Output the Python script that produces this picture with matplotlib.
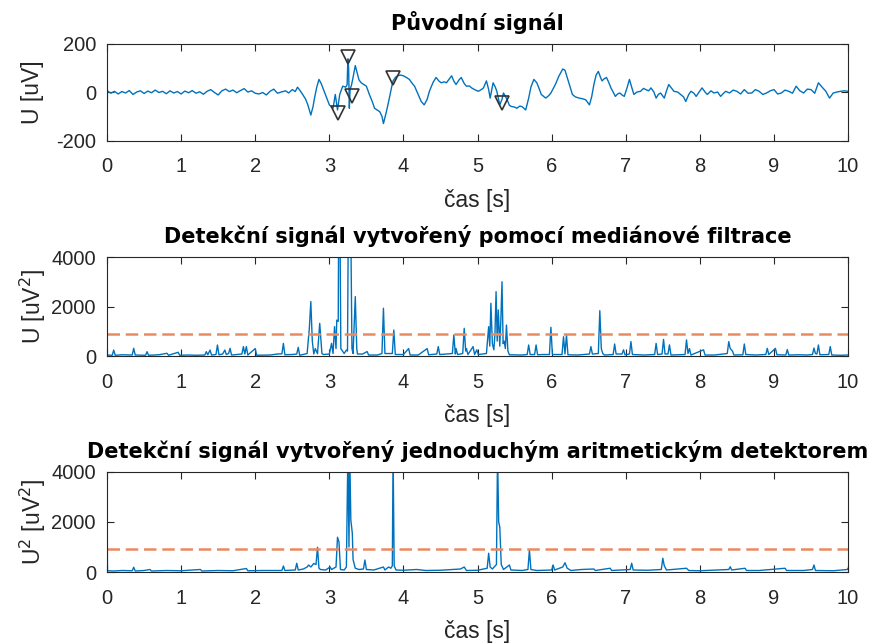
import matplotlib
matplotlib.use('Agg')
import matplotlib.pyplot as plt

plt.rcParams['font.family'] = ['Liberation Sans', 'DejaVu Sans']
plt.rcParams['axes.unicode_minus'] = False

# původní signál
t1 = [0, 0.005, 0.05, 0.10, 0.15, 0.20, 0.25, 0.30, 0.35, 0.40, 0.45, 0.50, 0.55, 0.60, 0.65, 0.70,
      0.75, 0.80, 0.85, 0.90, 0.95, 1.00, 1.05, 1.10, 1.15, 1.20, 1.25, 1.30, 1.35, 1.40, 1.45, 1.50,
      1.55, 1.60, 1.65, 1.70, 1.75, 1.80, 1.85, 1.90, 1.95, 2.00, 2.05, 2.10, 2.15, 2.20, 2.25, 2.30,
      2.35, 2.41, 2.45, 2.50, 2.54, 2.57, 2.60, 2.64, 2.68, 2.71, 2.75, 2.78, 2.80, 2.83, 2.86, 2.89,
      2.93, 2.97, 3.00, 3.05, 3.08, 3.11, 3.14, 3.18, 3.22, 3.24, 3.25, 3.26, 3.27, 3.28, 3.30, 3.32,
      3.35, 3.38, 3.40, 3.43, 3.47, 3.50, 3.54, 3.58, 3.61, 3.65, 3.68, 3.71, 3.73, 3.77, 3.81, 3.84,
      3.86, 3.89, 3.92, 3.96, 4.00, 4.04, 4.08, 4.12, 4.15, 4.19, 4.24, 4.28, 4.32, 4.35, 4.40, 4.44,
      4.48, 4.51, 4.55, 4.58, 4.62, 4.65, 4.68, 4.71, 4.75, 4.78, 4.82, 4.85, 4.89, 4.92, 4.96, 5.01,
      5.05, 5.08, 5.12, 5.15, 5.17, 5.21, 5.24, 5.26, 5.30, 5.33, 5.35, 5.38, 5.40, 5.43, 5.46, 5.50,
      5.53, 5.57, 5.60, 5.65, 5.69, 5.72, 5.76, 5.80, 5.83, 5.86, 5.92, 5.96, 5.99, 6.05, 6.10, 6.15,
      6.18, 6.21, 6.25, 6.28, 6.32, 6.37, 6.42, 6.46, 6.51, 6.54, 6.57, 6.60, 6.63, 6.66, 6.68, 6.71,
      6.74, 6.77, 6.80, 6.83, 6.86, 6.89, 6.92, 6.95, 6.98, 7.02, 7.05, 7.08, 7.11, 7.15, 7.20, 7.24,
      7.27, 7.31, 7.34, 7.38, 7.41, 7.44, 7.47, 7.52, 7.55, 7.58, 7.62, 7.65, 7.70, 7.74, 7.78, 7.81,
      7.85, 7.88, 7.92, 7.95, 7.99, 8.03, 8.07, 8.10, 8.15, 8.19, 8.24, 8.28, 8.32, 8.35, 8.40, 8.45,
      8.50, 8.55, 8.60, 8.65, 8.70, 8.75, 8.80, 8.85, 8.90, 8.95, 9.00, 9.05, 9.10, 9.15, 9.20, 9.25,
      9.30, 9.35, 9.40, 9.45, 9.50, 9.55, 9.60, 9.65, 9.70, 9.75, 9.80, 9.85, 9.90, 9.95, 10.0]
u1 = [-200, 5, -5, 3, -8, 2, -4, 6, -10, 0, 5, -6, 4, -3, 8, -2,
      3, -7, 5, -4, 2, -8, 4, -3, 6, -5, 1, -9, 3, 10, -2, -12,
      5, 12, 2, 8, -3, 6, 14, 0, 5, -5, -8, -2, -12, 3, 12, -5,
      0, 5, -4, 10, 2, 20, 8, -10, -30, -53, -95, -60, -25, 20, 52, 35,
      3, -30, -53, -67, -10, -74, -10, 24, 20, 30, 137, 100, -67, 10, 30, 60,
      109, 74, 50, 38, 30, 24, -10, -40, -67, -75, -81, -100, -130, -81, -25, 20,
      46, 60, 67, 70, 67, 60, 52, 35, 24, -4, -39, -53, -30, 3, 40, 60,
      45, 38, 42, 38, 55, 67, 45, 31, 50, 60, 35, 24, 25, 17, 10, 3,
      10, 17, 46, 10, -25, 38, 20, 3, -53, -30, -4, -20, -32, -55, -60, -62,
      -67, -58, -60, -74, -25, 20, 52, 38, 15, -10, -25, -15, -4, 31, 67, 95,
      90, 60, 20, -10, -20, -25, -28, -32, -53, -20, 31, 70, 85, 60, 46, 55,
      60, 40, 17, 0, -18, -8, -4, -12, -18, 20, 52, 20, -10, 0, 3, 15,
      10, 5, 17, 0, -25, -10, -4, -25, 5, 31, 15, 3, 0, -10, -20, -39,
      -10, 3, -5, -18, 0, 17, 0, -10, 5, -4, 0, -18, -5, 3, -4, 8,
      3, -8, 10, -5, -4, 10, 3, -10, -4, 5, 10, -8, -4, 8, 3, -5,
      24, 5, -4, 12, 10, -5, 38, 20, 3, -25, -4, 0, 3, 5, 3]

# detekované body
t_det = [3.12, 3.25, 3.31, 3.86, 5.33]
u_det = [-86, 145, -15, 57, -44]

# detekční signál - mediánová filtrace
t2 = [0, 0.07, 0.09, 0.11, 0.2, 0.34, 0.36, 0.38, 0.52, 0.54, 0.56, 0.7, 0.81, 0.83, 0.96, 0.98,
      1.1, 1.2, 1.32, 1.34, 1.36, 1.39, 1.41, 1.47, 1.49, 1.51, 1.56, 1.59, 1.61, 1.64, 1.66, 1.68,
      1.82, 1.84, 1.86, 1.88, 1.90, 2.0, 2.02, 2.2, 2.3, 2.36, 2.38, 2.40, 2.5, 2.56, 2.58, 2.60,
      2.70, 2.73, 2.75, 2.77, 2.79, 2.81, 2.84, 2.87, 2.90, 2.92, 3.0, 3.03, 3.05, 3.07, 3.09, 3.10,
      3.12, 3.125, 3.145, 3.155, 3.2, 3.23, 3.245, 3.255, 3.275, 3.29, 3.305, 3.32, 3.35, 3.37, 3.38, 3.45,
      3.51, 3.53, 3.65, 3.71, 3.73, 3.75, 3.85, 3.87, 3.89, 4.0, 4.07, 4.09, 4.2, 4.32, 4.34, 4.45,
      4.47, 4.49, 4.66, 4.68, 4.70, 4.71, 4.73, 4.80, 4.82, 4.84, 4.85, 4.87, 4.94, 4.96, 4.99, 5.01,
      5.12, 5.15, 5.165, 5.18, 5.2, 5.22, 5.235, 5.25, 5.265, 5.28, 5.30, 5.315, 5.33, 5.345, 5.36, 5.375,
      5.39, 5.41, 5.43, 5.6, 5.67, 5.69, 5.71, 5.77, 5.79, 5.81, 5.89, 5.97, 5.99, 6.01, 6.14, 6.16,
      6.18, 6.20, 6.22, 6.35, 6.51, 6.53, 6.55, 6.63, 6.65, 6.67, 6.69, 6.71, 6.83, 6.85, 6.87, 6.95,
      6.97, 6.99, 7.05, 7.07, 7.09, 7.25, 7.39, 7.41, 7.43, 7.49, 7.51, 7.53, 7.57, 7.59, 7.61, 7.80,
      7.82, 7.84, 7.86, 7.88, 8.05, 8.07, 8.2, 8.37, 8.39, 8.41, 8.44, 8.46, 8.58, 8.60, 8.62, 8.75,
      8.89, 8.91, 8.93, 9.02, 9.04, 9.16, 9.18, 9.20, 9.35, 9.45, 9.52, 9.54, 9.56, 9.58, 9.60, 9.62,
      9.74, 9.76, 9.78, 9.9, 10.0]
d2 = [40, 30, 240, 30, 50, 40, 310, 40, 30, 175, 30, 50, 110, 30, 150, 30,
      40, 30, 40, 175, 50, 240, 40, 60, 445, 50, 80, 240, 60, 100, 310, 40,
      80, 380, 80, 380, 40, 300, 30, 40, 80, 90, 510, 50, 60, 80, 350, 30,
      100, 1120, 2200, 600, 80, 300, 90, 1320, 100, 60, 80, 510, 100, 1185, 300, 1450,
      1400, 4800, 4800, 300, 100, 240, 200, 5000, 4800, 5000, 300, 100, 2400, 300, 80, 80,
      180, 40, 40, 100, 1930, 100, 100, 1050, 60, 60, 300, 40, 40, 300, 50, 80,
      380, 60, 100, 850, 80, 300, 60, 100, 1120, 200, 300, 60, 380, 60, 250, 60,
      100, 1185, 400, 2130, 500, 250, 900, 2600, 600, 1860, 400, 1500, 3000, 500, 600, 300,
      1250, 200, 50, 40, 60, 445, 60, 60, 445, 50, 60, 60, 1160, 60, 60, 780,
      80, 850, 50, 40, 80, 380, 80, 100, 1830, 300, 100, 40, 60, 485, 80, 80,
      250, 50, 80, 580, 60, 40, 60, 510, 60, 80, 670, 80, 80, 450, 40, 60,
      650, 100, 300, 40, 250, 40, 40, 100, 580, 300, 200, 40, 50, 485, 60, 40,
      60, 310, 60, 310, 50, 40, 260, 40, 50, 40, 60, 320, 100, 80, 445, 50,
      60, 380, 40, 30, 40]

# detekční signál - aritmetický detektor
t3 = [0, 0.005, 0.1, 0.2, 0.34, 0.36, 0.38, 0.5, 0.58, 0.6, 0.8, 1.0, 1.26, 1.28, 1.5, 1.7,
      1.88, 1.9, 2.1, 2.36, 2.38, 2.40, 2.54, 2.56, 2.58, 2.65, 2.70, 2.72, 2.75, 2.79, 2.82, 2.84,
      2.86, 2.88, 2.95, 3.01, 3.03, 3.09, 3.11, 3.13, 3.15, 3.2, 3.23, 3.25, 3.265, 3.275, 3.29, 3.31,
      3.32, 3.35, 3.40, 3.46, 3.48, 3.50, 3.6, 3.73, 3.75, 3.80, 3.83, 3.85, 3.86, 3.875, 3.90, 4.0,
      4.18, 4.3, 4.5, 4.77, 4.82, 4.85, 5.0, 5.13, 5.15, 5.17, 5.2, 5.255, 5.27, 5.285, 5.30, 5.32,
      5.35, 5.43, 5.45, 5.6, 5.68, 5.70, 5.72, 5.8, 6.0, 6.02, 6.04, 6.15, 6.18, 6.21, 6.26, 6.4,
      6.57, 6.59, 6.79, 6.81, 7.06, 7.08, 7.10, 7.3, 7.48, 7.50, 7.52, 7.55, 7.82, 7.85, 8.0, 8.39,
      8.41, 8.43, 8.61, 8.63, 8.8, 9.15, 9.17, 9.4, 9.52, 9.54, 9.56, 9.8, 9.99, 10.0]
d3 = [5000, 50, 40, 60, 50, 190, 40, 60, 100, 40, 60, 50, 100, 40, 60, 50,
      140, 50, 60, 60, 240, 60, 80, 350, 80, 120, 200, 280, 200, 340, 300, 990,
      150, 100, 80, 200, 100, 200, 1390, 1200, 100, 80, 200, 4800, 1000, 4800, 2080, 1550,
      500, 150, 100, 120, 480, 100, 80, 200, 80, 200, 150, 250, 4800, 250, 80, 70,
      100, 60, 70, 120, 200, 60, 70, 150, 750, 200, 120, 300, 4800, 2000, 1800, 300,
      100, 280, 80, 60, 100, 880, 100, 60, 80, 280, 80, 200, 370, 150, 60, 100,
      120, 60, 150, 60, 100, 350, 80, 70, 100, 550, 250, 80, 150, 60, 50, 100,
      210, 80, 150, 60, 60, 150, 60, 60, 100, 280, 60, 50, 100, 150]

prah = 900
x_ticks = list(range(0, 11))

blue = '#0072BD'
orange = '#EA8A60'
axc = '#262626'
title_font = dict(family=['DejaVu Sans'], fontweight='bold', fontsize=15)

fig = plt.figure(figsize=(8.81, 6.44), dpi=100)
left, width = 0.1215, 0.8411
ax1 = fig.add_axes([left, 0.7818, width, 0.1506])
ax2 = fig.add_axes([left, 0.4472, width, 0.1537])
ax3 = fig.add_axes([left, 0.1118, width, 0.1553])

ax1.plot(t1, u1, color=blue, lw=1.0)
ax1.plot(t_det, u_det, 'v', ms=10, mfc='none', mec='#333333', mew=1.2)
ax1.set_ylim(-200, 200)
ax1.set_yticks([-200, 0, 200])
ax1.set_title('Původní signál', pad=10, **title_font)
ax1.set_ylabel('U [uV]')

ax2.plot(t2, d2, color=blue, lw=1.0)
ax2.axhline(prah, color=orange, lw=1.8, ls=(0, (5, 2.3)))
ax2.set_ylim(0, 4000)
ax2.set_yticks([0, 2000, 4000])
ax2.set_title('Detekční signál vytvořený pomocí mediánové filtrace', pad=10, **title_font)
ax2.set_ylabel('U [uV$^2$]')

ax3.plot(t3, d3, color=blue, lw=1.0)
ax3.axhline(prah, color=orange, lw=1.8, ls=(0, (5, 2.3)))
ax3.set_ylim(0, 4000)
ax3.set_yticks([0, 2000, 4000])
ax3.set_title('Detekční signál vytvořený jednoduchým aritmetickým detektorem', pad=10, **title_font)
ax3.set_ylabel('U$^2$ [uV$^2$]')

for ax in (ax1, ax2, ax3):
    ax.set_xlim(0, 10)
    ax.set_xticks(x_ticks)
    ax.set_xlabel('čas [s]', fontsize=16.5, labelpad=9, color=axc)
    ax.yaxis.label.set_size(16.5)
    ax.yaxis.label.set_color(axc)
    ax.yaxis.label.set_va('center')
    ax.yaxis.set_label_coords(-0.10, 0.5)
    ax.tick_params(direction='in', top=True, right=True, length=5, width=0.8,
                   labelsize=14.5, colors=axc)
    ax.tick_params(axis='x', pad=12)
    ax.tick_params(axis='y', pad=8)
    for s in ax.spines.values():
        s.set_color(axc)
        s.set_linewidth(0.8)

fig.savefig('out.png', dpi=100, facecolor='white')
